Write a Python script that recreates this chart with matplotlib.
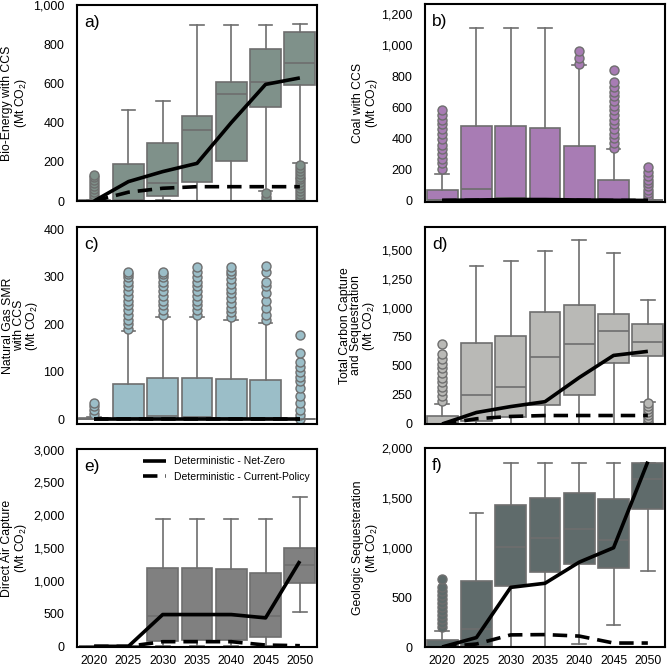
import matplotlib
matplotlib.use("Agg")
import matplotlib.pyplot as plt
from matplotlib.ticker import FuncFormatter, MultipleLocator

plt.rcParams['font.family'] = ['Liberation Sans', 'DejaVu Sans']
plt.rcParams['mathtext.fontset'] = 'custom'
plt.rcParams['mathtext.rm'] = 'Liberation Sans'
plt.rcParams['mathtext.it'] = 'Liberation Sans:italic'

years = ['2020', '2025', '2030', '2035', '2040', '2045', '2050']

# ---------------- Panel a: Bio-Energy with CCS ----------------
a_q1 = [0, 0, 27, 99, 204, 481, 592]
a_med = [0, 4, 93, 362, 544, 605, 702]
a_q3 = [3, 189, 294, 435, 607, 774, 860]
a_lo = [0, 0, 5, 0, 0, 51, 196]
a_hi = [5, 464, 512, 898, 898, 898, 901]
a_fl = [[15, 30, 45, 60, 75, 90, 105, 120, 135], [], [], [], [],
        [5, 22, 40], [5, 20, 35, 50, 65, 80, 95, 110, 125, 140, 155, 170, 185]]

# ---------------- Panel b: Coal with CCS ----------------
b_q1 = [0, 0, 0, 0, 0, 0, 0]
b_med = [0, 71, 15, 0, 0, 0, 0]
b_q3 = [65, 482, 477, 469, 350, 129, 0]
b_lo = [0, 0, 0, 0, 0, 0, 0]
b_hi = [168, 1110, 1110, 1110, 875, 329, 0]
b_fl = [[205, 240, 270, 300, 330, 360, 395, 430, 460, 490, 520, 550, 580], [], [], [],
        [880, 920, 960],
        [340, 370, 400, 430, 460, 490, 520, 550, 580, 610, 640, 670, 700, 730, 760, 840],
        [10, 30, 50, 70, 90, 110, 130, 160, 185, 215]]

# ---------------- Panel c: Natural Gas SMR with CCS ----------------
c_q1 = [0, 0, 0, 0, 0, 0, 0]
c_med = [0, 2, 7, 5, 3, 2, 0]
c_q3 = [3, 74, 87, 87, 85, 82, 0]
c_lo = [0, 0, 0, 0, 0, 0, 0]
c_hi = [5, 185, 216, 216, 210, 202, 0]
c_fl = [[12, 20, 28, 35],
        [190, 200, 210, 220, 230, 240, 250, 260, 270, 280, 290, 300, 305, 310],
        [220, 230, 240, 250, 260, 270, 280, 290, 300, 305, 310],
        [220, 230, 240, 250, 260, 270, 280, 290, 300, 310, 320],
        [215, 225, 235, 245, 255, 265, 275, 285, 295, 305, 312, 320],
        [210, 220, 235, 250, 265, 280, 290, 310, 323],
        [0, 10, 20, 35, 50, 65, 80, 90, 100, 110, 120, 140, 178]]

# ---------------- Panel d: Total Carbon Capture and Sequestration ----------------
d_q1 = [0, 26, 57, 164, 250, 523, 589]
d_med = [0, 253, 322, 578, 687, 796, 704]
d_q3 = [66, 701, 761, 960, 1026, 945, 862]
d_lo = [0, 0, 0, 0, 0, 0, 193]
d_hi = [172, 1359, 1405, 1491, 1583, 1468, 1063]
d_fl = [[200, 240, 280, 320, 360, 400, 440, 480, 520, 560, 600, 690], [], [], [], [], [],
        [5, 30, 55, 80, 105, 130, 155, 180]]

# ---------------- Panel e: Direct Air Capture ----------------
e_q1 = [0, 0, 87, 95, 102, 138, 969]
e_med = [0, 0, 459, 465, 465, 459, 1235]
e_q3 = [0, 0, 1194, 1194, 1184, 1122, 1505]
e_lo = [0, 0, 0, 0, 0, 0, 520]
e_hi = [0, 0, 1939, 1939, 1939, 1939, 2281]
e_fl = [[], [], [], [], [], [], []]

# ---------------- Panel f: Geologic Sequesteration ----------------
f_q1 = [0, 10, 611, 753, 838, 797, 1389]
f_med = [0, 186, 1007, 1101, 1193, 1074, 1689]
f_q3 = [68, 669, 1426, 1497, 1554, 1493, 1851]
f_lo = [0, 0, 0, 0, 27, 226, 770]
f_hi = [162, 1351, 1851, 1851, 1851, 1851, 1851]
f_fl = [[200, 240, 280, 320, 360, 400, 440, 480, 520, 560, 600, 690], [], [], [], [], [], []]

# ---------------- Deterministic scenario lines ----------------
a_nz = [0, 99, 150, 192, 400, 595, 628]
a_cp = [0, 45, 65, 73, 73, 73, 73]
b_nz = [0, 3, 6, 6, 3, 1, 0]
b_cp = [0, 1, 2, 2, 1, 0, 0]
c_nz = [0, 0, 0, 0, 0, 0, 0]
c_cp = [0, 0, 0, 0, 0, 0, 0]
d_nz = [0, 99, 150, 192, 400, 590, 625]
d_cp = [0, 45, 65, 73, 73, 73, 73]
e_nz = [0, 0, 485, 485, 485, 434, 1300]
e_cp = [0, 0, 71, 71, 71, 20, 10]
f_nz = [0, 95, 601, 642, 855, 1000, 1868]
f_cp = [0, 30, 122, 125, 110, 40, 40]

panels = [
    dict(tag='a)', ylabel='Bio-Energy with CCS\n(Mt CO$_2$)', color='#7f918a',
         q1=a_q1, med=a_med, q3=a_q3, lo=a_lo, hi=a_hi, fl=a_fl, nz=a_nz, cp=a_cp,
         ylim=(0, 1000), step=200, pos=(77, 5, 317, 201), lab_x=15),
    dict(tag='b)', ylabel='Coal with CCS\n(Mt CO$_2$)', color='#a87cb4',
         q1=b_q1, med=b_med, q3=b_q3, lo=b_lo, hi=b_hi, fl=b_fl, nz=b_nz, cp=b_cp,
         ylim=(-10, 1265), step=200, pos=(425, 4, 665, 202), lab_x=366),
    dict(tag='c)', ylabel='Natural Gas SMR\nwith CCS\n(Mt CO$_2$)', color='#9bbec8',
         q1=c_q1, med=c_med, q3=c_q3, lo=c_lo, hi=c_hi, fl=c_fl, nz=c_nz, cp=c_cp,
         ylim=(-10, 405), step=100, pos=(77, 227, 317, 424), lab_x=21),
    dict(tag='d)', ylabel='Total Carbon Capture\nand Sequestration\n(Mt CO$_2$)', color='#b9b9b6',
         q1=d_q1, med=d_med, q3=d_q3, lo=d_lo, hi=d_hi, fl=d_fl, nz=d_nz, cp=d_cp,
         ylim=(0, 1695), step=250, pos=(425, 227, 665, 424), lab_x=358),
    dict(tag='e)', ylabel='Direct Air Capture\n(Mt CO$_2$)', color='#808080',
         q1=e_q1, med=e_med, q3=e_q3, lo=e_lo, hi=e_hi, fl=e_fl, nz=e_nz, cp=e_cp,
         ylim=(-10, 3010), step=500, pos=(77, 449, 317, 647), lab_x=15),
    dict(tag='f)', ylabel='Geologic Sequesteration\n(Mt CO$_2$)', color='#5f6b6b',
         q1=f_q1, med=f_med, q3=f_q3, lo=f_lo, hi=f_hi, fl=f_fl, nz=f_nz, cp=f_cp,
         ylim=(0, 2005), step=500, pos=(425, 448, 665, 647), lab_x=366),
]

W, H = 667, 669
fig = plt.figure(figsize=(W / 100, H / 100), dpi=100)
edge = '#6e6e6e'
fmt = FuncFormatter(lambda v, p: f'{v:,.0f}')

for i, p in enumerate(panels):
    x0, y0, x1, y1 = p['pos']
    ax = fig.add_axes([x0 / W, 1 - y1 / H, (x1 - x0) / W, (y1 - y0) / H])
    stats = []
    for k in range(len(years)):
        stats.append(dict(q1=p['q1'][k], med=p['med'][k], q3=p['q3'][k],
                          whislo=p['lo'][k], whishi=p['hi'][k], fliers=p['fl'][k]))
    ax.bxp(stats, positions=range(len(years)), widths=0.9, patch_artist=True,
           boxprops=dict(facecolor=p['color'], edgecolor=edge, linewidth=1.2),
           medianprops=dict(color=edge, linewidth=1.2),
           whiskerprops=dict(color=edge, linewidth=1.2),
           capprops=dict(color=edge, linewidth=1.2),
           flierprops=dict(marker='o', markersize=6.5, markerfacecolor=p['color'],
                           markeredgecolor=edge, markeredgewidth=1.0),
           capwidths=0.4)
    if p['tag'] == 'c)':
        ax.axhline(0, color='#888888', lw=1.2, zorder=1)
    ax.plot(range(len(years)), p['nz'], color='black', lw=2.6, solid_capstyle='butt',
            label='Deterministic - Net-Zero', zorder=5)
    ax.plot(range(len(years)), p['cp'], color='black', lw=2.6, dashes=(4, 2.2),
            label='Deterministic - Current-Policy', zorder=5)
    ax.set_xlim(-0.5, 6.5)
    ax.set_ylim(*p['ylim'])
    ax.yaxis.set_major_locator(MultipleLocator(p['step']))
    ax.yaxis.set_major_formatter(fmt)
    ax.set_xticks(range(len(years)))
    if i >= 4:
        ax.set_xticklabels(years)
    else:
        ax.set_xticklabels([])
    ax.tick_params(axis='y', length=0, labelsize=9, pad=9)
    ax.tick_params(axis='x', length=0, labelsize=8.7, pad=6)
    for s in ax.spines.values():
        s.set_color('black')
        s.set_linewidth(1.5)
    ax.set_ylabel(p['ylabel'], fontsize=8.8, linespacing=0.92, va='center')
    ax.yaxis.set_label_coords((p['lab_x'] - x0) / (x1 - x0), 0.5)
    ax.text(0.03, 0.95, p['tag'], transform=ax.transAxes, fontsize=12.5,
            ha='left', va='top')
    if p['tag'] == 'e)':
        ax.legend(loc='upper right', frameon=False, fontsize=7.5, handlelength=2.2,
                  borderaxespad=0.3, handletextpad=0.8)

fig.savefig('out.png', dpi=100)
